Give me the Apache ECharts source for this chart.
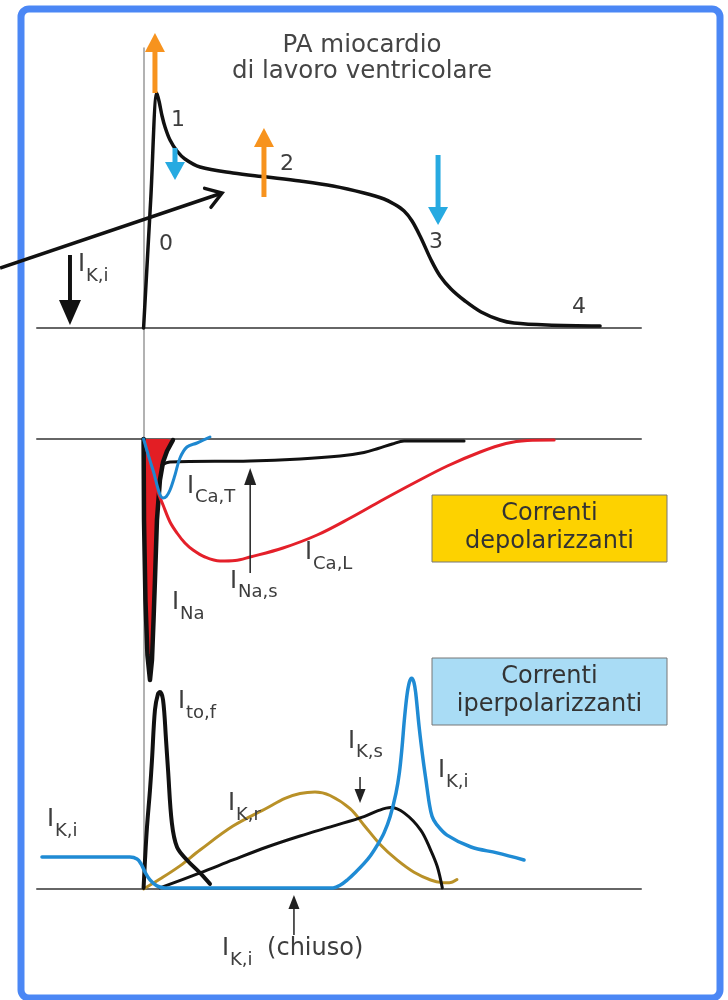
<!DOCTYPE html>
<html><head><meta charset="utf-8">
<script src="https://cdn.jsdelivr.net/npm/echarts@6/dist/echarts.min.js"></script>
<style>html,body{margin:0;padding:0;background:#fff}#c{width:728px;height:1000px}</style>
</head><body><div id="c"></div>
<script>
// ---- data (time in ms, schematic) ----
// Action potential (mV)
const apCurve = [[0,-90],[5,-26],[9.4,27.5],[11,23],[13,16],[15.1,10.5],[18.6,4],[23.5,-1.5],[29.1,-5.5],[39.7,-9.5],[62.9,-12.5],[86.8,-14.5],[110.1,-16.5],[133.3,-19],[155.1,-22.5],[169.2,-25.5],[176.2,-28],[183.3,-31.5],[188.9,-36.5],[195.2,-45],[202.3,-56],[208.6,-64],[216.3,-70.5],[226.2,-76.5],[237.5,-82],[250.8,-86],[260.7,-87.5],[283.9,-88.5],[321.2,-89]];
// Depolarizing currents (inward, negative)
const iNa = [[0,0],[0.3,-32.4],[1.3,-64.4],[2.7,-86.4],[4.5,-96.4],[5.9,-88.4],[7.0,-72.4],[8.0,-56.4],[9.4,-32.4],[11.5,-16.4],[13.7,-9.2],[16.5,-4.8],[20.7,-0.4]];
const iNaS = [[12.9,-10.4],[18.6,-9.2],[74.9,-8.8],[110.1,-8],[138.2,-6.8],[155.1,-5.4],[165,-3.8],[175,-2],[183.3,-0.8],[225.5,-0.8]];
const iCaL = [[1,-1.2],[5.9,-12.4],[10.1,-21.2],[13.7,-26.4],[18.6,-33.2],[23.5,-37.6],[29.1,-41.6],[34.8,-44.4],[43.2,-47.2],[53.8,-48.8],[64.4,-48.6],[74.9,-47.2],[98.1,-43.6],[122.1,-38.4],[145.4,-31.6],[166.8,-24.8],[190.3,-17.6],[213.7,-10.8],[236.9,-5.2],[255,-1.8],[270,-0.6],[288.9,-0.4]];
const iCaT = [[0,0],[6.6,-12.4],[13.7,-23.6],[16,-23],[18.6,-20.4],[22.1,-14.4],[25.6,-7.6],[30.5,-3.2],[37.6,-1.6],[46.7,0.8]];
// Hyperpolarizing currents (outward, positive)
const iKi = [[-71.5,14.5],[-9.6,14.5],[-4.6,13.6],[-1.8,11.4],[1,7.7],[4.5,4.1],[9.4,1.4],[15.1,0.5],[133.3,0.5],[138.5,1.8],[143.5,4.2],[149,7.5],[155,11.5],[160,15.5],[165,20.5],[169.2,25.5],[173.5,33],[177.6,43.6],[180,53],[181.8,64],[183.5,77],[185.3,88],[187,94],[188.6,95.8],[190.2,94],[191.5,89],[193.9,73.6],[196.7,58.6],[198.8,49],[201,39],[203,33],[206,29.5],[213.5,24.5],[230.4,19.1],[248.7,16.4],[267.7,13.2]];
const iToF = [[0,0.5],[1,13.2],[2.4,28.2],[4.5,45],[5.9,58.6],[8,81.4],[10.1,88.6],[11.5,89.5],[13.7,85.9],[15.8,67.7],[17.2,54.1],[19.9,30],[23.5,19.1],[30.5,13.2],[39.7,7.3],[46.7,2.3]];
const iKr = [[0,0],[11.5,4.5],[25.6,10.5],[39.7,17.7],[62.9,28.6],[86.8,36.8],[99.5,41.2],[110.1,43.4],[120.6,44.1],[131.2,42.5],[145.3,36.5],[155.1,29],[166.8,20],[178.3,13.2],[190.3,7.6],[202,4.1],[210,2.9],[215,2.8],[220.5,4.3]];
const iKs = [[11.5,0.5],[39.7,7.3],[62.9,13.2],[86.8,19.1],[110.1,24.1],[133.3,28.6],[155.1,32.9],[165,35.6],[173.9,37],[183.3,34.6],[195,26.8],[202,17.7],[206.7,10.1],[210.2,0.5]];

// annotation arrows [t0, v0, t1, v1]
const orangeArrows = [[8,27.5,8,57.5],[84.7,-24.5,84.7,10]];
const cyanArrows = [[22.1,0,22.1,-16],[207.2,-3.5,207.2,-38.5]];
const apBlackArrows = [[-51.8,-53.5,-51.8,-88.5]];
const pointerArrows = [[-101,-60,55.2,-22.5]];
const midThinArrows = [[75,-53.6,75,-11.6]];
const lowThinArrows = [[152.3,50.9,152.3,39.1],[105.8,-20.9,105.8,-2.7]];

// labels [t, v, text, subscript]
const phaseLabels = [[10.8,-48,'0'],[19.3,14,'1'],[96,-8,'2'],[200.8,-47,'3'],[301.5,-79.5,'4']];
const apCurrentLabels = [[-46.2,-58.5,'I','K,i']];
const depLabels = [[30.5,-19,'I','Ca,T'],[60.8,-57,'I','Na,s'],[20,-65.6,'I','Na'],[113.6,-45.6,'I','Ca,L']];
const hypLabels = [[24.2,85,'I','to,f'],[59.4,38.6,'I','K,r'],[143.8,67,'I','K,s'],[207.2,53.6,'I','K,i'],[-68,31.4,'I','K,i'],[55.2,-27.3,'I','K,i'],[86.9,-27.1,'(chiuso)','']];
const titleLines = ['PA miocardio','di lavoro ventricolare'];
const boxDep = ['Correnti','depolarizzanti'];
const boxHyp = ['Correnti','iperpolarizzanti'];

// ---- chart ----
const FONT = '"DejaVu Sans", sans-serif';
const TXT = '#3d3d3d';
const chart = echarts.init(document.getElementById('c'), null, {renderer:'canvas'});

function lineSeries(data, gi, color, width, extra) {
  return Object.assign({type:'line', xAxisIndex:gi, yAxisIndex:gi, data:data, showSymbol:false, symbol:'none',
    smooth:0.35, clip:false, silent:true, lineStyle:{color:color, width:width, cap:'round', join:'round'}}, extra||{});
}
function arrowSeries(list, gi, st) {
  return {type:'custom', coordinateSystem:'cartesian2d', xAxisIndex:gi, yAxisIndex:gi, z:st.z||12, silent:true,
    clip:false, data:list, encode:{x:[0,2], y:[1,3]},
    renderItem:function(params, api){
      const a = api.coord([api.value(0), api.value(1)]);
      const b = api.coord([api.value(2), api.value(3)]);
      const dx=b[0]-a[0], dy=b[1]-a[1], len=Math.hypot(dx,dy)||1;
      const ux=dx/len, uy=dy/len, px=-uy, py=ux, L=st.head, W=st.half;
      const bx=b[0]-ux*L, by=b[1]-uy*L;
      const ch=[];
      if (st.open) {
        ch.push({type:'line', shape:{x1:a[0],y1:a[1],x2:b[0]-ux*1.5,y2:b[1]-uy*1.5}, style:{stroke:st.color, lineWidth:st.width}});
        ch.push({type:'polyline', shape:{points:[[bx+px*W,by+py*W],[b[0],b[1]],[bx-px*W,by-py*W]]},
          style:{stroke:st.color, lineWidth:st.width, fill:null, lineJoin:'miter', lineCap:'round'}});
      } else {
        ch.push({type:'line', shape:{x1:a[0],y1:a[1],x2:bx+ux*2,y2:by+uy*2}, style:{stroke:st.color, lineWidth:st.width}});
        ch.push({type:'polygon', shape:{points:[[b[0],b[1]],[bx+px*W,by+py*W],[bx-px*W,by-py*W]]}, style:{fill:st.color}});
      }
      return {type:'group', children:ch};
    }};
}
function labelSeries(list, gi, mainSize, subSize) {
  return {type:'custom', coordinateSystem:'cartesian2d', xAxisIndex:gi, yAxisIndex:gi, z:20, silent:true,
    clip:false, data:list.map(function(d){return [d[0],d[1]];}), encode:{x:0, y:1},
    renderItem:function(params, api){
      const d = list[params.dataIndex];
      const p = api.coord([api.value(0), api.value(1)]);
      const ch=[{type:'text', x:p[0], y:p[1], style:{text:d[2], font:mainSize+'px '+FONT, fill:TXT, align:'left', verticalAlign:'middle'}}];
      if (d[3]) ch.push({type:'text', x:p[0]+8, y:p[1]+11, style:{text:d[3], font:subSize+'px '+FONT, fill:TXT, align:'left', verticalAlign:'middle'}});
      return {type:'group', children:ch};
    }};
}
const hidden = {axisTick:{show:false}, axisLabel:{show:false}, splitLine:{show:false}};
const baseLine = {show:true, lineStyle:{color:'#666', width:2}};

const option = {
  animation:false,
  backgroundColor:'#ffffff',
  grid:[
    {left:37, right:87, top:48, bottom:111},
    {left:37, right:87, top:48, height:280},
    {left:37, right:87, top:429, height:260},
    {left:37, right:87, top:669, height:220}
  ],
  xAxis:[
    Object.assign({gridIndex:0, type:'value', min:-75, max:350, show:false}, hidden),
    Object.assign({gridIndex:1, type:'value', min:-75, max:350, position:'bottom', axisLine:Object.assign({onZero:false}, baseLine)}, hidden),
    Object.assign({gridIndex:2, type:'value', min:-75, max:350, axisLine:Object.assign({onZero:true}, baseLine)}, hidden),
    Object.assign({gridIndex:3, type:'value', min:-75, max:350, axisLine:Object.assign({onZero:true}, baseLine)}, hidden)
  ],
  yAxis:[
    Object.assign({gridIndex:0, type:'value', min:0, max:1, axisLine:{show:true, onZero:true, lineStyle:{color:'#999', width:1.5}}}, hidden),
    Object.assign({gridIndex:1, type:'value', min:-90, max:50, show:false}, hidden),
    Object.assign({gridIndex:2, type:'value', min:-100, max:4, show:false}, hidden),
    Object.assign({gridIndex:3, type:'value', min:0, max:100, show:false}, hidden)
  ],
  graphic:[
    {type:'rect', z:-10, shape:{x:21, y:9, width:699, height:989, r:8}, style:{fill:null, stroke:'#4b87f5', lineWidth:7}},
    {type:'text', x:362, y:58.6, style:{text:titleLines.join('\n'), align:'center', verticalAlign:'middle', lineHeight:26, font:'24.5px '+FONT, fill:'#454545'}},
    {type:'rect', shape:{x:432, y:495, width:235, height:67}, style:{fill:'#fdd200', stroke:'#777', lineWidth:1}},
    {type:'text', x:549.5, y:527.5, style:{text:boxDep.join('\n'), align:'center', verticalAlign:'middle', lineHeight:28, font:'24px '+FONT, fill:'#333'}},
    {type:'rect', shape:{x:432, y:658, width:235, height:67}, style:{fill:'#a9dcf5', stroke:'#777', lineWidth:1}},
    {type:'text', x:549.5, y:690.5, style:{text:boxHyp.join('\n'), align:'center', verticalAlign:'middle', lineHeight:28, font:'24px '+FONT, fill:'#333'}}
  ],
  series:[
    lineSeries(apCurve, 1, '#111', 3.5),
    lineSeries(iNa, 2, '#111', 4.5, {smooth:false, areaStyle:{color:'#e31e24', opacity:1}, z:2}),
    lineSeries(iCaL, 2, '#e4202a', 3),
    lineSeries(iNaS, 2, '#111', 3),
    lineSeries(iCaT, 2, '#1e88d0', 3),
    lineSeries(iKr, 3, '#b99128', 3),
    lineSeries(iKs, 3, '#111', 3),
    lineSeries(iToF, 3, '#111', 4),
    lineSeries(iKi, 3, '#1f8bd4', 3.5),
    arrowSeries(orangeArrows, 1, {color:'#f7931e', width:5, head:19, half:10}),
    arrowSeries(cyanArrows, 1, {color:'#27aae1', width:5, head:18, half:10}),
    arrowSeries(apBlackArrows, 1, {color:'#111', width:4, head:25, half:11}),
    arrowSeries(pointerArrows, 1, {color:'#111', width:3.5, head:15, half:10, open:true, z:30}),
    arrowSeries(midThinArrows, 2, {color:'#222', width:1.5, head:17, half:6}),
    arrowSeries(lowThinArrows, 3, {color:'#222', width:1.5, head:14, half:5.5}),
    labelSeries(phaseLabels, 1, 22, 18),
    labelSeries(apCurrentLabels, 1, 24, 18),
    labelSeries(depLabels, 2, 24, 18),
    labelSeries(hypLabels, 3, 24, 18)
  ]
};
chart.setOption(option);
</script>
</body></html>
